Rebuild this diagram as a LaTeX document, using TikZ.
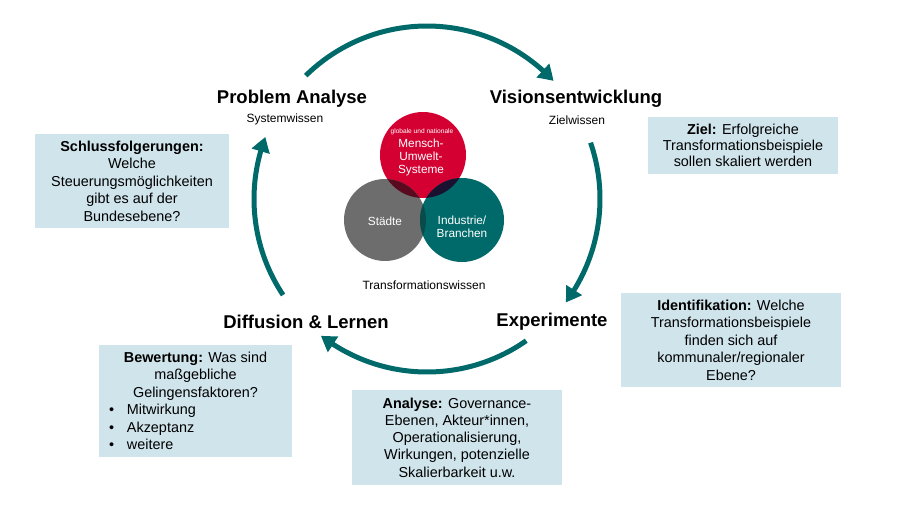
\documentclass[tikz,border=0pt]{standalone}
\usepackage{fontspec}
\setmainfont{Liberation Sans}
\usetikzlibrary{arrows.meta,bending,calc}
\definecolor{tealc}{HTML}{00696A}
\definecolor{boxc}{HTML}{D0E4EC}
\definecolor{redc}{HTML}{D40032}
\definecolor{grayc}{HTML}{6D6D6D}
\definecolor{rgc}{HTML}{5A0A1E}
\definecolor{rtc}{HTML}{1A1030}
\definecolor{gtc}{HTML}{0A4A4A}
\definecolor{rgtc}{HTML}{101020}
\tikzset{
  cyc/.style={draw=tealc, line width=5pt, -{Triangle[length=15pt,width=18pt,bend]}},
  head/.style={font=\fontsize{18.5}{22}\selectfont\bfseries, inner sep=0pt},
  sub/.style={font=\fontsize{12}{14}\selectfont, inner sep=0pt},
  infobox/.style={fill=boxc, inner sep=0pt, align=center, font=\fontsize{14.4}{17.5}\selectfont},
  venntext/.style={text=white, align=center, inner sep=0pt, font=\fontsize{11.8}{13}\selectfont},
}
\newcommand{\bitem}[1]{\makebox[178pt][l]{\hspace*{2.5pt}\makebox[18pt][l]{\textbullet}#1}}
\begin{document}
\begin{tikzpicture}[x=1pt,y=1pt]
\useasboundingbox (0,0) rectangle (898,507);
% cycle
\coordinate (C) at (427,308);
\coordinate (topS) at ($(C)+(134.5:173)$);
\coordinate (rightS) at ($(C)+(19:173)$);
\coordinate (botS) at ($(C)+(-55:173)$);
\coordinate (leftS) at ($(C)+(213.7:173)$);
\draw[cyc] (topS) arc[start angle=134.5, end angle=43, radius=173];
\draw[cyc] (rightS) arc[start angle=19, end angle=-36.7, radius=173];
\draw[cyc] (botS) arc[start angle=-55, end angle=-127.8, radius=173];
\draw[cyc] (leftS) arc[start angle=213.7, end angle=159, radius=173];
% headers
\node[head] (pa) at (292,408) {Problem Analyse};
\node[sub] (sw) at (285,388) {Systemwissen};
\node[head] (ve) at (576,408) {Visionsentwicklung};
\node[sub] (zw) at (577,387) {Zielwissen};
\node[head] (ex) at (552,185) {Experimente};
\node[head] (dl) at (306,185) {Diffusion \& Lernen};
\node[sub] (tw) at (424,222) {Transformationswissen};
% venn
\coordinate (R) at (423,352);
\coordinate (G) at (385,287);
\coordinate (T) at (462,287);
\fill[redc] (R) circle[radius=43];
\fill[grayc] (G) circle[radius=41];
\fill[tealc] (T) circle[radius=42];
\begin{scope}
  \clip (R) circle[radius=43];
  \fill[rgc] (G) circle[radius=41];
  \fill[rtc] (T) circle[radius=42];
\end{scope}
\begin{scope}
  \clip (G) circle[radius=41];
  \fill[gtc] (T) circle[radius=42];
  \clip (T) circle[radius=42];
  \fill[rgtc] (R) circle[radius=43];
\end{scope}
\node[venntext, font=\fontsize{6.6}{8}\selectfont] (gn) at (422,375) {globale und nationale};
\node[venntext] (mus) at (421,350) {Mensch-\\Umwelt-\\Systeme};
\node[venntext] (st) at (385,286) {Städte};
\node[venntext] (ib) at (462,280) {Industrie/\\Branchen};
% boxes
\node[infobox, minimum width=194pt, minimum height=94pt] (schluss) at (132,326)
  {\textbf{Schlussfolgerungen:}\\Welche\\Steuerungsmöglichkeiten\\gibt es auf der\\Bundesebene?};
\node[infobox, minimum width=190pt, minimum height=57pt, font=\fontsize{14.4}{16}\selectfont] (ziel) at (743,361.5)
  {\textbf{Ziel:} Erfolgreiche\\Transformationsbeispiele\\sollen skaliert werden};
\node[infobox, minimum width=220pt, minimum height=94pt] (ident) at (731,167)
  {\textbf{Identifikation:} Welche\\Transformationsbeispiele\\finden sich auf\\kommunaler/regionaler\\Ebene?};
\node[infobox, minimum width=193pt, minimum height=112pt] (bew) at (195.5,106)
  {\textbf{Bewertung:} Was sind\\maßgebliche\\Gelingensfaktoren?\\
   \bitem{Mitwirkung}\\\bitem{Akzeptanz}\\\bitem{weitere}};
\node[infobox, minimum width=210pt, minimum height=95pt, font=\fontsize{14.4}{17.2}\selectfont] (ana) at (457,69.5)
  {\textbf{Analyse:} Governance-\\Ebenen, Akteur*innen,\\Operationalisierung,\\Wirkungen, potenzielle\\Skalierbarkeit u.w.};
\end{tikzpicture}
\end{document}
